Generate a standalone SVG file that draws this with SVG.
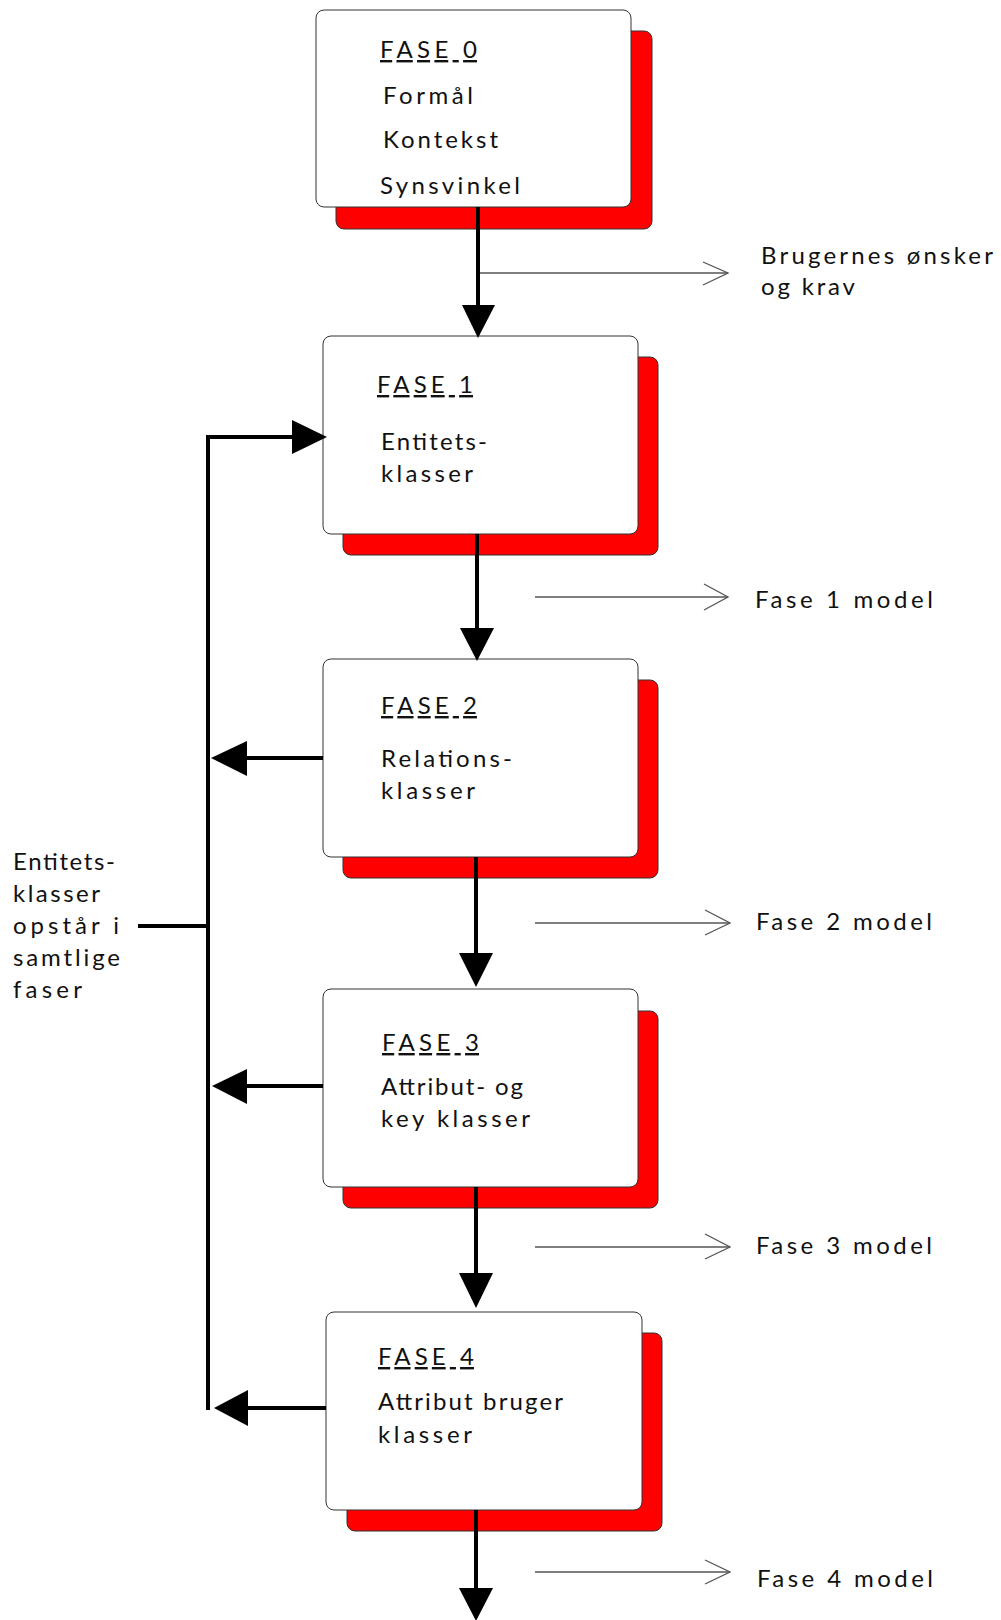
<svg xmlns="http://www.w3.org/2000/svg" width="1001" height="1620" viewBox="0 0 1001 1620">
<defs>
<style>
.shadow{fill:#ff0000;stroke:#333;stroke-width:1}
.box{fill:#fff;stroke:#333;stroke-width:1}
text{font-family:Lato,"Open Sans","Liberation Sans",sans-serif;font-size:24px;fill:#111}
.hd{text-decoration:underline}
.thick{stroke:#000;stroke-width:4;fill:none}
.thin{stroke:#555;stroke-width:1.3;fill:none}
.head{fill:#000}
</style>
</defs>
<rect width="1001" height="1620" fill="#fff"/>

<g id="fase0">
<rect class="shadow" x="336" y="31" width="316" height="198" rx="8"/>
<rect class="box" x="316" y="10" width="315" height="197" rx="8"/>
<text class="hd" x="380" y="58" textLength="97" lengthAdjust="spacing">FASE 0</text>
<text x="383" y="104" textLength="90" lengthAdjust="spacing">Formål</text>
<text x="383" y="148" textLength="115" lengthAdjust="spacing">Kontekst</text>
<text x="380" y="194" textLength="140" lengthAdjust="spacing">Synsvinkel</text>
</g>

<g id="fase1">
<rect class="shadow" x="343" y="357" width="315" height="198" rx="8"/>
<rect class="box" x="323" y="336" width="315" height="198" rx="8"/>
<text class="hd" x="377" y="393" textLength="96" lengthAdjust="spacing">FASE 1</text>
<text x="381" y="450" textLength="106" lengthAdjust="spacing">Entitets-</text>
<text x="381" y="482" textLength="92" lengthAdjust="spacing">klasser</text>
</g>

<g id="fase2">
<rect class="shadow" x="343" y="680" width="315" height="198" rx="8"/>
<rect class="box" x="323" y="659" width="315" height="198" rx="8"/>
<text class="hd" x="381" y="714" textLength="96" lengthAdjust="spacing">FASE 2</text>
<text x="381" y="767" textLength="131" lengthAdjust="spacing">Relations-</text>
<text x="381" y="799" textLength="94" lengthAdjust="spacing">klasser</text>
</g>

<g id="fase3">
<rect class="shadow" x="343" y="1011" width="315" height="197" rx="8"/>
<rect class="box" x="323" y="989" width="315" height="198" rx="8"/>
<text class="hd" x="382" y="1051" textLength="97" lengthAdjust="spacing">FASE 3</text>
<text x="381" y="1095" textLength="142" lengthAdjust="spacing">Attribut- og</text>
<text x="381" y="1127" textLength="149" lengthAdjust="spacing">key klasser</text>
</g>

<g id="fase4">
<rect class="shadow" x="347" y="1333" width="315" height="198" rx="8"/>
<rect class="box" x="326" y="1312" width="316" height="198" rx="8"/>
<text class="hd" x="378" y="1365" textLength="96" lengthAdjust="spacing">FASE 4</text>
<text x="378" y="1410" textLength="185" lengthAdjust="spacing">Attribut bruger</text>
<text x="378" y="1443" textLength="94" lengthAdjust="spacing">klasser</text>
</g>

<g id="outputs">
<text x="761" y="264" textLength="232" lengthAdjust="spacing">Brugernes ønsker</text>
<text x="761" y="295" textLength="94" lengthAdjust="spacing">og krav</text>
<text x="755" y="608" textLength="178" lengthAdjust="spacing">Fase 1 model</text>
<text x="756" y="930" textLength="176" lengthAdjust="spacing">Fase 2 model</text>
<text x="756" y="1254" textLength="176" lengthAdjust="spacing">Fase 3 model</text>
<text x="757" y="1587" textLength="176" lengthAdjust="spacing">Fase 4 model</text>
</g>

<g id="note">
<text x="13" y="870" textLength="102" lengthAdjust="spacing">Entitets-</text>
<text x="13" y="902" textLength="87" lengthAdjust="spacing">klasser</text>
<text x="13" y="934" textLength="106" lengthAdjust="spacing">opstår i</text>
<text x="13" y="966" textLength="107" lengthAdjust="spacing">samtlige</text>
<text x="13" y="998" textLength="69" lengthAdjust="spacing">faser</text>
</g>

<g id="connectors">
<line class="thick" x1="478" y1="207" x2="478" y2="306"/>
<polygon class="head" points="462,305 495,305 478,338"/>
<line class="thick" x1="477" y1="534" x2="477" y2="629"/>
<polygon class="head" points="460,628 494,628 477,661"/>
<line class="thick" x1="476" y1="857" x2="476" y2="954"/>
<polygon class="head" points="459,953 493,953 476,987"/>
<line class="thick" x1="476" y1="1187" x2="476" y2="1274"/>
<polygon class="head" points="459,1273 493,1273 476,1308"/>
<line class="thick" x1="476" y1="1510" x2="476" y2="1589"/>
<polygon class="head" points="459,1588 493,1588 476,1621"/>

<line class="thick" x1="208" y1="435" x2="208" y2="1410"/>
<line class="thick" x1="206" y1="437" x2="293" y2="437"/>
<polygon class="head" points="292,420 292,454 327,437"/>
<line class="thick" x1="323" y1="758" x2="246" y2="758"/>
<polygon class="head" points="247,741 247,776 211,758"/>
<line class="thick" x1="323" y1="1086" x2="246" y2="1086"/>
<polygon class="head" points="247,1069 247,1104 212,1086"/>
<line class="thick" x1="326" y1="1408" x2="247" y2="1408"/>
<polygon class="head" points="248,1390 248,1426 214,1408"/>
<line class="thick" x1="138" y1="926" x2="208" y2="926"/>

<line class="thin" x1="480" y1="273" x2="728" y2="273"/>
<polyline class="thin" points="703,262 728,273 703,285"/>
<line class="thin" x1="535" y1="597" x2="728" y2="597"/>
<polyline class="thin" points="704,584 728,597 704,610"/>
<line class="thin" x1="535" y1="923" x2="730" y2="923"/>
<polyline class="thin" points="705,910 730,923 705,935"/>
<line class="thin" x1="535" y1="1247" x2="730" y2="1247"/>
<polyline class="thin" points="705,1234 730,1247 705,1259"/>
<line class="thin" x1="535" y1="1572" x2="730" y2="1572"/>
<polyline class="thin" points="705,1560 730,1572 705,1584"/>
</g>
</svg>
